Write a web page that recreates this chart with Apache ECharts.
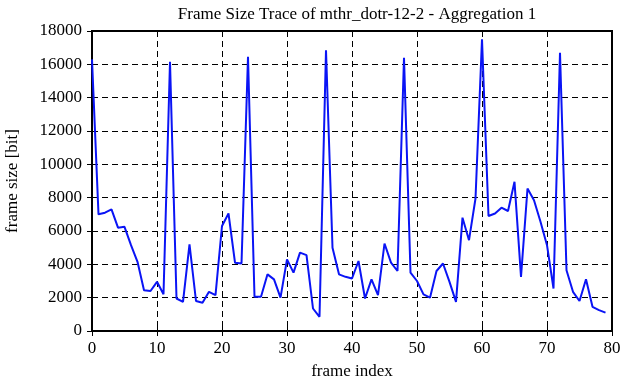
<!DOCTYPE html>
<html><head><meta charset="utf-8">
<script src="https://cdn.jsdelivr.net/npm/echarts@6/dist/echarts.min.js"></script>
<style>html,body{margin:0;padding:0;background:#fff}#c{width:621px;height:382px}</style>
</head><body><div id="c"></div>
<script>
const titleText = 'Frame Size Trace of mthr_dotr-12-2 - Aggregation 1';
const xName = 'frame index';
const yName = 'frame size [bit]';
const frameIndex = Array.from({length: 80}, (_, i) => i);
const frameSize = [
  16300, 7000, 7100, 7300, 6200, 6250, 5150, 4150, 2450, 2400,
  2950, 2200, 16150, 1950, 1750, 5200, 1800, 1700, 2350, 2150,
  6300, 7050, 4100, 4050, 16450, 2050, 2050, 3400, 3100, 2000,
  4300, 3500, 4700, 4550, 1350, 850, 16850, 5000, 3400, 3250,
  3150, 4200, 1950, 3100, 2150, 5250, 4100, 3600, 16400, 3500,
  3000, 2200, 2000, 3600, 4050, 2950, 1750, 6800, 5450, 7950,
  17500, 6900, 7050, 7400, 7200, 8950, 3250, 8550, 7850, 6550,
  5150, 2550, 16700, 3650, 2350, 1800, 3100, 1450, 1250, 1100
];
const serif = 'Liberation Serif';
const chart = echarts.init(document.getElementById('c'), null, {renderer: 'canvas'});
const dash = {color: '#000', width: 1, type: [6, 4]};
const plain = v => String(v);
chart.setOption({
  animation: false,
  backgroundColor: '#fff',
  title: {text: titleText, left: 352, top: 1, textAlign: 'center',
    textStyle: {fontFamily: serif, fontSize: 17, fontWeight: 'normal', color: '#000'}},
  grid: {left: 92, right: 9, top: 31, bottom: 51, show: true, borderColor: '#000', borderWidth: 2,
    backgroundColor: 'transparent', containLabel: false, outerBoundsMode: 'none'},
  xAxis: [{
    type: 'value', min: 0, max: 80, interval: 10,
    name: xName, nameLocation: 'middle', nameGap: 32,
    nameTextStyle: {fontFamily: serif, fontSize: 17, color: '#000'},
    axisLine: {show: false},
    axisTick: {show: true, inside: true, length: 5, lineStyle: {color: '#000', width: 1}},
    axisLabel: {fontFamily: serif, fontSize: 17, color: '#000', margin: 9, formatter: plain},
    splitLine: {show: true, lineStyle: dash}
  }, {
    type: 'value', min: 0, max: 80, interval: 10, position: 'top',
    axisLine: {show: false}, axisLabel: {show: false},
    axisTick: {show: true, inside: true, length: 5, lineStyle: {color: '#000', width: 1}},
    splitLine: {show: false}
  }],
  yAxis: [{
    type: 'value', min: 0, max: 18000, interval: 2000,
    name: yName, nameLocation: 'middle', nameGap: 71,
    nameTextStyle: {fontFamily: serif, fontSize: 17, color: '#000'},
    axisLine: {show: false},
    axisTick: {show: true, inside: true, length: 5, lineStyle: {color: '#000', width: 1}},
    axisLabel: {fontFamily: serif, fontSize: 17, color: '#000', margin: 10, formatter: plain},
    splitLine: {show: true, lineStyle: dash}
  }, {
    type: 'value', min: 0, max: 18000, interval: 2000, position: 'right',
    axisLine: {show: false}, axisLabel: {show: false},
    axisTick: {show: true, inside: true, length: 5, lineStyle: {color: '#000', width: 1}},
    splitLine: {show: false}
  }],
  series: [{
    type: 'line',
    data: frameIndex.map((x, i) => [x, frameSize[i]]),
    showSymbol: false, symbol: 'none',
    lineStyle: {color: '#0a14f5', width: 2},
    z: 5
  }]
});
</script></body></html>
